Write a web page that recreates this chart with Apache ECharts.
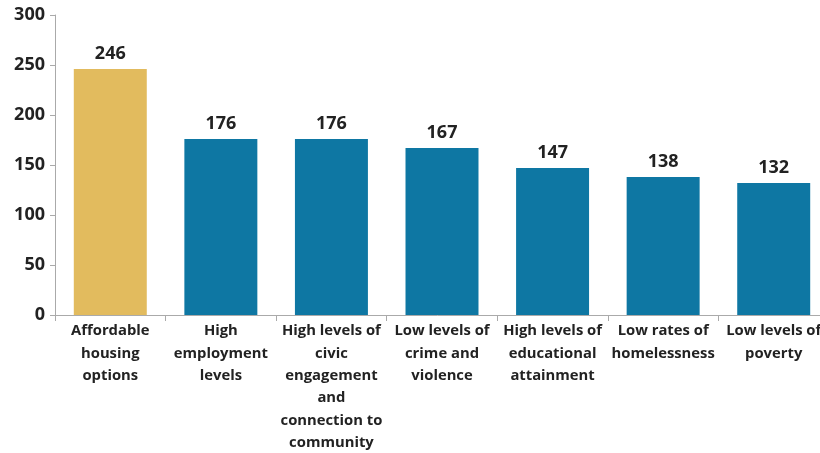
<!DOCTYPE html>
<html><head><meta charset="utf-8">
<script src="https://cdn.jsdelivr.net/npm/echarts@6/dist/echarts.min.js"></script>
<style>html,body{margin:0;padding:0;background:#fff}#c{width:820px;height:453px}</style>
</head><body><div id="c"></div>
<script>
const categories = ["Affordable\nhousing\noptions","High\nemployment\nlevels","High levels of\ncivic\nengagement\nand\nconnection to\ncommunity","Low levels of\ncrime and\nviolence","High levels of\neducational\nattainment","Low rates of\nhomelessness","Low levels of\npoverty"];
const values = [246,176,176,167,147,138,132];
const yTicks = [0,50,100,150,200,250,300];
const highlightIndex = 0;
const gold = '#E2BB5E', blue = '#0E77A3';
const chart = echarts.init(document.getElementById('c'));
chart.setOption({
  animation:false,
  grid:{left:55, top:15, width:774, height:300, containLabel:false, outerBoundsMode:'none'},
  xAxis:{type:'category', data:categories,
    axisLine:{lineStyle:{color:'#aaaaaa', width:1}},
    axisTick:{show:true, length:6, lineStyle:{color:'#aaaaaa'}},
    axisLabel:{interval:0, margin:5, fontFamily:'Open Sans', fontWeight:'bold', fontSize:14.8, color:'#222', lineHeight:22.3}
  },
  yAxis:{type:'value', min:yTicks[0], max:yTicks[yTicks.length-1], interval:50,
    axisLine:{show:true, lineStyle:{color:'#aaaaaa'}},
    axisTick:{show:true, length:5, lineStyle:{color:'#aaaaaa'}},
    splitLine:{show:false},
    axisLabel:{margin:10, fontFamily:'Open Sans', fontWeight:'bold', fontSize:18, color:'#222'}
  },
  series:[{type:'bar', barWidth:'66%',
    data:values.map((v,i)=>({value:v, itemStyle:{color:i===highlightIndex?gold:blue}})),
    label:{show:true, position:'top', distance:6, fontFamily:'Open Sans', fontWeight:'bold', fontSize:18, color:'#222'}
  }]
});
</script></body></html>
